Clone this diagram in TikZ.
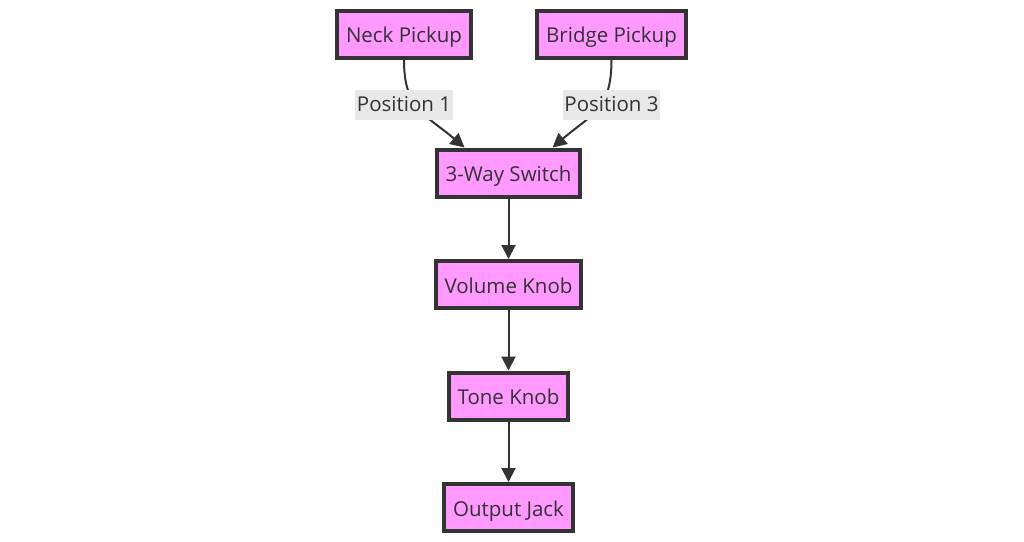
\documentclass[tikz,border=0pt]{standalone}
\usepackage{fontspec}
\setmainfont{Open Sans}
\usetikzlibrary{positioning,arrows.meta}
\definecolor{partfill}{HTML}{FF99FF}
\definecolor{ink}{HTML}{333333}
\definecolor{tagfill}{HTML}{E8E8E8}
\tikzset{
    part/.style={
           rectangle,
           fill=partfill,
           draw=ink, line width=4pt,
           minimum height=47pt,
           inner xsep=9pt,
           inner ysep=0pt,
           text height=21pt,
           text depth=4pt,
           text=ink,
           font=\fontsize{20.5}{24}\selectfont,
           text centered,
           },
    tag/.style={
           rectangle,
           fill=tagfill,
           minimum height=30pt,
           inner xsep=1.5pt,
           inner ysep=0pt,
           text height=20pt,
           text depth=6pt,
           text=ink,
           font=\fontsize{20.5}{24}\selectfont,
           },
    flow/.style={
           draw=ink, line width=2pt,
           -{Triangle[length=14pt,width=14pt]},
           },
}
\begin{document}
\begin{tikzpicture}[x=1pt,y=1pt]
    \useasboundingbox[fill=white] (0,0) rectangle (1024,-541);

    % pickups on top
    \node[part] (neck) at (404,-34) {Neck Pickup};
    \node[part] (bridge) at (611.5,-34) {Bridge Pickup};

    % signal chain below the switch
    \node[part] (switch) at (508.5,-173) {3-Way Switch};
    \node[part, below=60.5pt of switch] (volume) {Volume Knob};
    \node[part, below=60.5pt of volume] (tone) {Tone Knob};
    \node[part, below=60.5pt of tone] (jack) {Output Jack};

    % where the pickup wires end
    \coordinate (nin) at ([xshift=-44pt]switch.north);
    \coordinate (bin) at ([xshift=44pt]switch.north);

    \draw[flow] (neck.south) .. controls +(0,-50) and +(-40,34) .. (nin);
    \draw[flow] (bridge.south) .. controls +(0,-50) and +(40,34) .. (bin);

    % labels on the pickup wires
    \node[tag, below=30pt of neck] (pos1) {Position 1};
    \node[tag, below=30pt of bridge] (pos3) {Position 3};

    \path
        (switch) edge[flow] (volume)
        (volume) edge[flow] (tone)
        (tone)   edge[flow] (jack);
\end{tikzpicture}
\end{document}
